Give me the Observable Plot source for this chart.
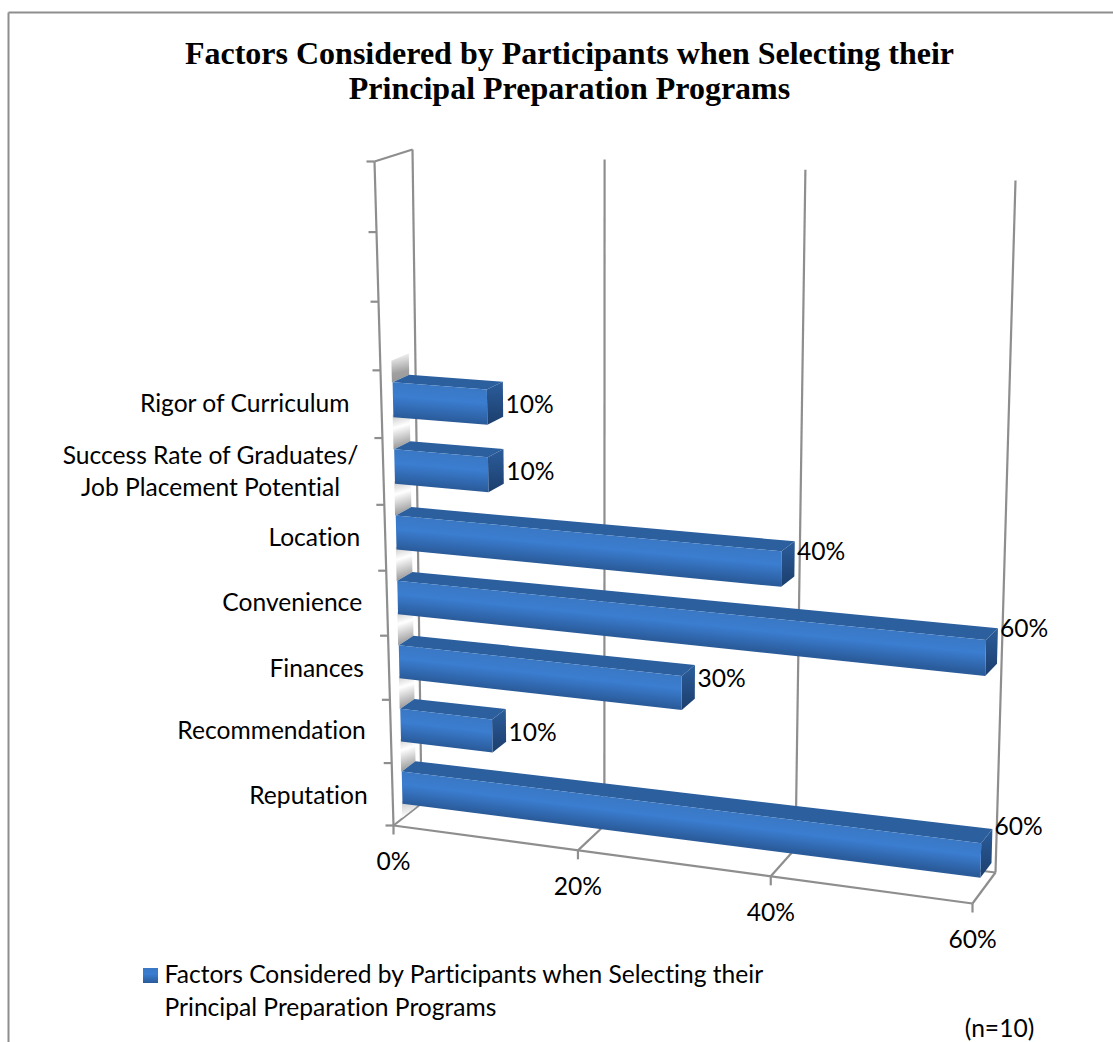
<!DOCTYPE html>
<html>
<head>
<meta charset="utf-8">
<style>
  html, body { margin: 0; padding: 0; background: #fff; }
  svg { display: block; }
  text { font-variant-ligatures: none; }
</style>
<script src="https://cdn.jsdelivr.net/npm/d3@7"></script>
<script src="https://cdn.jsdelivr.net/npm/@observablehq/plot@0.6"></script>
</head>
<body>
<div id="chart"></div>
<script>
// Survey results, bottom row first.
const categories = ["Reputation", "Recommendation", "Finances", "Convenience", "Location", "Success Rate of Graduates/\nJob Placement Potential", "Rigor of Curriculum"];
const shares = [60, 10, 30, 60, 40, 10, 10];
const valueTicks = [0, 20, 40, 60];
const slotCount = 10;
const titleLines = ["Factors Considered by Participants when Selecting their", "Principal Preparation Programs"];
const legendLines = ["Factors Considered by Participants when Selecting their", "Principal Preparation Programs"];
const note = "(n=10)";

const W = 1113, H = 1042;
const sans = "Lato, 'Noto Sans', sans-serif";
const serif = "'Liberation Serif', serif";
const gridColor = "#8e8e8e";

// Corners of the 3D plot box on screen: front/back, bottom/top, left/right.
const box = {
  f00: [393, 825], f10: [972, 903], f01: [374, 161], f11: [987, 193],
  b00: [421, 803], b10: [995, 872], b01: [412, 149], b11: [1015, 180]
};
const warp = (t, k) => t * (1 + k) / (1 + k * t);
const lerp = (a, b, t) => [a[0] + (b[0] - a[0]) * t, a[1] + (b[1] - a[1]) * t];

// Maps (percent, category slot, depth 0..1) onto the oblique view of the box.
function project(value, slot, depth) {
  const u = warp(value / 60, -0.065), v = warp(slot / slotCount, -0.066);
  const front = lerp(lerp(box.f00, box.f10, u), lerp(box.f01, box.f11, u), v);
  const back = lerp(lerp(box.b00, box.b10, u), lerp(box.b01, box.b11, u), v);
  return lerp(front, back, depth);
}

const seg = (a, b) => ({x1: a[0], y1: a[1], x2: b[0], y2: b[1]});
const lines = (rows, o = {}) => Plot.link(rows, {x1: "x1", y1: "y1", x2: "x2", y2: "y2", stroke: gridColor, strokeWidth: 2.2, ...o});

// A filled quadrilateral a-b-c-d built as a two-point area.
const face = (a, b, c, d, fill) => Plot.area(
  [{x1: a[0], y1: a[1], x2: d[0], y2: d[1]}, {x1: b[0], y1: b[1], x2: c[0], y2: c[1]}],
  {x1: "x1", y1: "y1", x2: "x2", y2: "y2", fill, curve: "linear"}
);

// Box structure: gridlines on the wall and floor, axes with ticks.
const structure = [];
valueTicks.forEach(t => {
  structure.push(seg(project(t, 0, 1), project(t, slotCount, 1)));
  structure.push(seg(project(t, 0, 0), project(t, 0, 1)));
  const p = project(t, 0, 0);
  structure.push(seg(p, [p[0], p[1] + 9]));
});
structure.push(seg(box.f00, box.f10));
structure.push(seg(box.b00, box.b10));
structure.push(seg(box.f00, box.f01));
structure.push(seg(box.f01, box.b01));
d3.range(slotCount + 1).forEach(s => {
  const p = project(0, s, 0);
  structure.push(seg(p, [p[0] - 8, p[1]]));
});

const barBottom = 0.22, barTop = 0.74, barFrontDepth = 0.35, barBackDepth = 0.83;

// Soft grey shading on the side wall in the gaps above and below each bar.
const wallPatches = d3.range(-1, categories.length).map(i => {
  const first = i < 0, last = i === categories.length - 1;
  const lo = first ? 0 : i + barTop;
  const hi = last ? i + 1.06 : i + 1 + barBottom + 0.04;
  const fill = first ? "url(#wallBelow)" : last ? "url(#wallAbove)" : "url(#wallGap)";
  return face(project(0, hi, barFrontDepth - 0.02), project(0, hi, barBackDepth), project(0, lo, barBackDepth), project(0, lo, barFrontDepth - 0.02), fill);
});

// Three visible faces per bar; the front gradient runs across the slanted bar.
const gradients = [];
const bars = categories.flatMap((c, i) => {
  const v = shares[i], lo = i + barBottom, hi = i + barTop;
  const ftl = project(0, hi, barFrontDepth), ftr = project(v, hi, barFrontDepth);
  const fbl = project(0, lo, barFrontDepth), fbr = project(v, lo, barFrontDepth);
  const btl = project(0, hi, barBackDepth), btr = project(v, hi, barBackDepth);
  const bbr = project(v, lo, barBackDepth);
  const dx = ftr[0] - ftl[0], dy = ftr[1] - ftl[1], len = Math.hypot(dx, dy);
  const nx = -dy / len, ny = dx / len;
  const h = (fbl[0] - ftl[0]) * nx + (fbl[1] - ftl[1]) * ny;
  gradients.push({id: `front${i}`, x1: ftl[0], y1: ftl[1], x2: ftl[0] + nx * h, y2: ftl[1] + ny * h});
  return [
    face(ftl, btl, btr, ftr, "#2c5f9e"),
    face(ftr, btr, bbr, fbr, "url(#cap)"),
    face(ftl, ftr, fbr, fbl, `url(#front${i})`)
  ];
});

// Gradient definitions used by the bars, the wall and the legend key.
function defsMark() {
  const defs = d3.create("svg:defs");
  const add = (id, attrs, stops) => {
    const g = defs.append("linearGradient").attr("id", id);
    Object.entries(attrs).forEach(([k, val]) => g.attr(k, val));
    stops.forEach(([o, col]) => g.append("stop").attr("offset", o).attr("stop-color", col));
  };
  const frontStops = [[0, "#3a78c4"], [0.4, "#3b7dd0"], [1, "#2a5b9a"]];
  gradients.forEach(({id, x1, y1, x2, y2}) => add(id, {gradientUnits: "userSpaceOnUse", x1, y1, x2, y2}, frontStops));
  add("legendKey", {x1: 0, y1: 0, x2: 0, y2: 1}, frontStops);
  add("cap", {x1: 0, y1: 0, x2: 0, y2: 1}, [[0, "#2b5d9b"], [1, "#1c3e6d"]]);
  const across = {x1: 0, y1: 0, x2: 0.12, y2: 1};
  add("wallGap", across, [[0, "#a4a4a4"], [0.5, "#ffffff"], [1, "#989898"]]);
  add("wallAbove", across, [[0, "#ffffff"], [0.7, "#a0a0a0"], [1, "#989898"]]);
  add("wallBelow", across, [[0, "#a4a4a4"], [1, "#ffffff"]]);
  return defs.node();
}

// Value labels sit beside the bar end; each row's lift follows its bar length.
const labelLift = [21, -5, 5, 19, 9, -3, -3];
const valueRows = categories.map((c, i) => {
  const p = project(shares[i], i + 0.45, barBackDepth);
  return {x: p[0] + 2, y: p[1] - labelLift[i], text: `${shares[i]}%`};
});

const labelFont = 24.6;
const categoryRows = categories.map((c, i) => {
  const p = project(0, i + 0.5, 0);
  return {x: p[0] - 25, y: p[1] + (i === 0 || i === 2 ? 1.5 : 0), text: c, i};
});
const textStyle = {fontFamily: sans, fontSize: labelFont, fill: "#000"};

const chart = Plot.plot({
  width: W, height: H, margin: 0,
  x: {domain: [0, W], range: [0, W], axis: null},
  y: {domain: [0, H], range: [0, H], axis: null},
  style: {background: "#fff"},
  marks: [
    defsMark,
    // outer frame
    lines([seg([8, H], [8, 12]), seg([8, 12], [W, 12])], {strokeWidth: 2}),
    lines(structure),
    ...wallPatches,
    ...bars,
    Plot.text(titleLines, {x: 569, y: (d, i) => 53 + i * 35, text: d => d, fontFamily: serif, fontWeight: "bold", fontSize: 32, fill: "#000"}),
    Plot.text(categoryRows.filter(d => d.i !== 5 && d.i !== 6), {x: "x", y: "y", text: "text", textAnchor: "end", ...textStyle}),
    Plot.text(categoryRows.filter(d => d.i === 6), {x: "x", y: "y", dx: -7, text: "text", textAnchor: "end", ...textStyle}),
    Plot.text(categoryRows.filter(d => d.i === 5), {x: 210, y: d => d.y - 1.5, text: "text", textAnchor: "middle", lineHeight: 1.3, ...textStyle}),
    Plot.text(valueRows, {x: "x", y: "y", text: "text", textAnchor: "start", ...textStyle}),
    Plot.text(valueTicks, {x: t => project(t, 0, 0)[0], y: t => project(t, 0, 0)[1] + 37, text: t => `${t}%`, ...textStyle}),
    Plot.rect([0], {x1: 143, x2: 158, y1: 968, y2: 983, fill: "url(#legendKey)"}),
    Plot.text(legendLines, {x: 164, y: (d, i) => 975 + i * 33, text: d => d, textAnchor: "start", ...textStyle}),
    Plot.text([note], {x: 999, y: 1029, text: d => d, ...textStyle})
  ]
});
document.getElementById("chart").append(chart);
</script>
</body>
</html>
